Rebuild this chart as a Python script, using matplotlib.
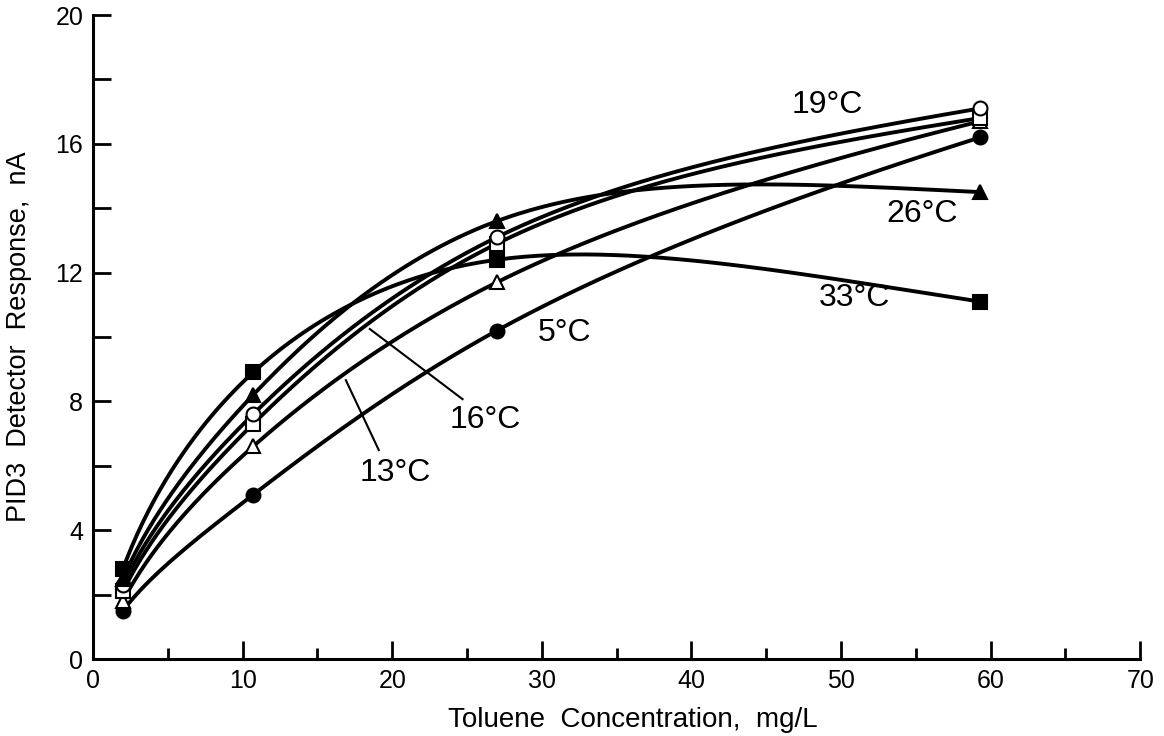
import numpy as np
import matplotlib
matplotlib.use("Agg")
import matplotlib.pyplot as plt

plt.rcParams['font.family'] = ['Liberation Sans', 'DejaVu Sans']

# toluene concentration, mg/L
conc = [2.0, 10.7, 27.0, 59.3]

# detector response (nA) per temperature
resp_5 = [1.5, 5.1, 10.2, 16.2]
resp_13 = [1.8, 6.6, 11.7, 16.7]
resp_16 = [2.1, 7.3, 12.9, 16.8]
resp_19 = [2.3, 7.6, 13.1, 17.1]
resp_26 = [2.5, 8.2, 13.6, 14.5]
resp_33 = [2.8, 8.9, 12.4, 11.1]

series = [
    (resp_5, 'o', 'black'),
    (resp_13, '^', 'white'),
    (resp_16, 's', 'white'),
    (resp_19, 'o', 'white'),
    (resp_26, '^', 'black'),
    (resp_33, 's', 'black'),
]


def natural_spline(xk, yk, xq):
    # natural cubic spline through (xk, yk), evaluated at xq
    xk = np.asarray(xk, float)
    yk = np.asarray(yk, float)
    n = len(xk)
    h = np.diff(xk)
    d = np.diff(yk) / h
    A = np.zeros((n, n))
    r = np.zeros(n)
    A[0, 0] = A[-1, -1] = 1.0
    for i in range(1, n - 1):
        A[i, i - 1] = h[i - 1]
        A[i, i] = 2 * (h[i - 1] + h[i])
        A[i, i + 1] = h[i]
        r[i] = 6 * (d[i] - d[i - 1])
    M = np.linalg.solve(A, r)
    idx = np.clip(np.searchsorted(xk, xq) - 1, 0, n - 2)
    x0, x1 = xk[idx], xk[idx + 1]
    hh = h[idx]
    a = x1 - xq
    b = xq - x0
    return (M[idx] * a**3 + M[idx + 1] * b**3) / (6 * hh) \
        + (yk[idx] / hh - M[idx] * hh / 6) * a \
        + (yk[idx + 1] / hh - M[idx + 1] * hh / 6) * b


fig = plt.figure(figsize=(11.64, 7.36), dpi=100)
ax = fig.add_axes([0.0799, 0.1046, 0.8997, 0.875])

# smooth curve through the points, spline against sqrt(concentration)
xs = np.linspace(conc[0], conc[-1], 300)
for vals, mk, fc in series:
    ys = natural_spline(np.sqrt(conc), vals, np.sqrt(xs))
    ax.plot(xs, ys, color='black', lw=2.8, zorder=2)
for vals, mk, fc in series:
    ax.plot(conc, vals, linestyle='none', marker=mk, markersize=10,
            markerfacecolor=fc, markeredgecolor='black', markeredgewidth=1.5, zorder=3)

# curve labels
lbl = dict(fontsize=23, ha='center', va='center')
ax.text(49.1, 17.2, '19°C', **lbl)
ax.text(55.4, 13.82, '26°C', **lbl)
ax.text(50.9, 11.2, '33°C', **lbl)
ax.text(31.5, 10.12, '5°C', **lbl)
ax.text(26.2, 7.42, '16°C', **lbl)
ax.text(20.2, 5.78, '13°C', **lbl)

# leader lines
ax.plot([18.5, 24.7], [10.25, 8.07], color='black', lw=1.5)
ax.plot([16.9, 19.1], [8.66, 6.49], color='black', lw=1.5)

ax.set_xlim(0, 70)
ax.set_ylim(0, 20)
ax.set_xticks(np.arange(0, 71, 10))
ax.set_xticks(np.arange(5, 70, 10), minor=True)
ax.set_yticks(np.arange(0, 21, 4))
ax.set_yticks(np.arange(2, 20, 4), minor=True)
ax.tick_params(which='major', direction='in', length=13, width=2, labelsize=18, pad=7)
ax.tick_params(axis='x', which='minor', direction='in', length=8, width=2)
ax.tick_params(axis='y', which='minor', direction='in', length=13, width=2)

for s in ['top', 'right']:
    ax.spines[s].set_visible(False)
for s in ['left', 'bottom']:
    ax.spines[s].set_linewidth(2.2)

ax.set_xlabel('Toluene  Concentration,  mg/L', fontsize=20)
ax.set_ylabel('PID3  Detector  Response,  nA', fontsize=19.5)
ax.xaxis.set_label_coords(0.515, -0.075)
ax.yaxis.set_label_coords(-0.058, 0.5)

fig.savefig('out.png', dpi=100)
